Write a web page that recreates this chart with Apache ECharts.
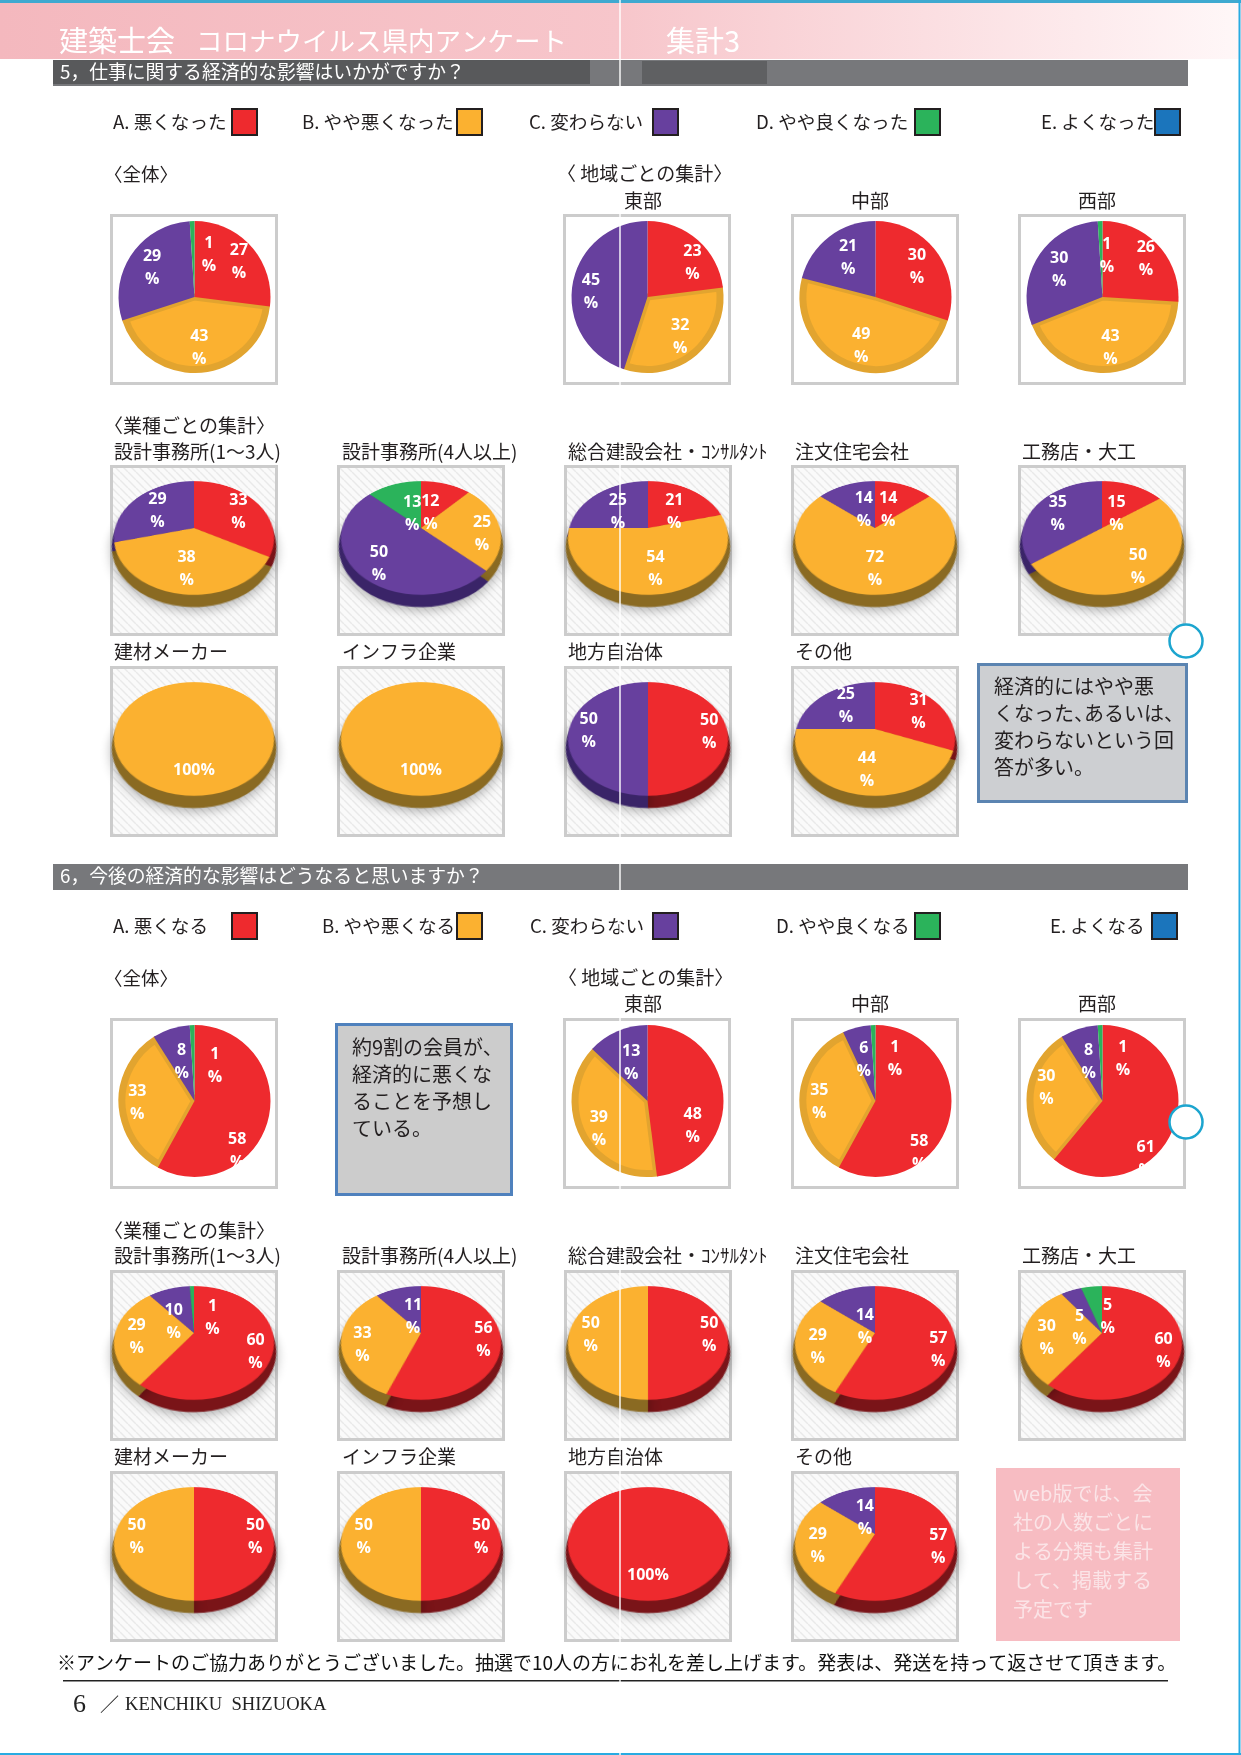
<!DOCTYPE html>
<html>
<head>
<meta charset="UTF-8">
<title>建築士会 コロナウイルス県内アンケート 集計3</title>
<script src="https://cdn.jsdelivr.net/npm/echarts@6/dist/echarts.min.js"></script>
<style>
  html, body { margin: 0; padding: 0; background: #fff; }
  #page { position: relative; width: 1241px; height: 1755px; overflow: hidden; }
  #back, #front { position: absolute; left: 0; top: 0; width: 1241px; height: 1755px; }
  #front { z-index: 5; pointer-events: none; }
  .tilt { position: absolute; z-index: 2; }
</style>
</head>
<body>
<div id="page">
  <div id="back"></div>
  <div id="front"></div>
</div>
<script>
// data. order of every list: A B C D E
var q5Legend = ['A. 悪くなった', 'B. やや悪くなった', 'C. 変わらない', 'D. やや良くなった', 'E. よくなった'];
var q6Legend = ['A. 悪くなる', 'B. やや悪くなる', 'C. 変わらない', 'D. やや良くなる', 'E. よくなる'];
var regionNames = ['東部', '中部', '西部'];
var tradeRow1 = ['設計事務所(1～3人)', '設計事務所(4人以上)', '総合建設会社・ｺﾝｻﾙﾀﾝﾄ', '注文住宅会社', '工務店・大工'];
var tradeRow2 = ['建材メーカー', 'インフラ企業', '地方自治体', 'その他'];

var q5Top = [[27, 43, 29, 1, 0], [23, 32, 45, 0, 0], [30, 49, 21, 0, 0], [26, 43, 30, 1, 0]];
var q5Row1 = [[33, 38, 29, 0, 0], [12, 25, 50, 13, 0], [21, 54, 25, 0, 0], [14, 72, 14, 0, 0], [15, 50, 35, 0, 0]];
var q5Row2 = [[0, 100, 0, 0, 0], [0, 100, 0, 0, 0], [50, 0, 50, 0, 0], [31, 44, 25, 0, 0]];
var q6Top = [[58, 33, 8, 1, 0], [48, 39, 13, 0, 0], [58, 35, 6, 1, 0], [61, 30, 8, 1, 0]];
var q6Row1 = [[60, 29, 10, 1, 0], [56, 33, 11, 0, 0], [50, 50, 0, 0, 0], [57, 29, 14, 0, 0], [60, 30, 5, 5, 0]];
var q6Row2 = [[50, 50, 0, 0, 0], [50, 50, 0, 0, 0], [100, 0, 0, 0, 0], [57, 29, 14, 0, 0]];

var colors = ['#EE2A2E', '#FBB130', '#67409E', '#2BB35B', '#1B75BC'];
var sideColors = ['#7A1418', '#8A6A22', '#3A2468', '#17663A', '#0F4470'];
var RIM = '#E2A42F';
var FONT = '"Noto Sans CJK JP", sans-serif';

// page layout
var boxX = [110, 337, 564, 791, 1018];
var topBoxX = [110, 563, 791, 1018];
var BOX_W = 168, BOX_H = 171;

// tilted disc: a circle of radius R in perspective
var R = 78.8, TILT_DEG = 45.6, PERSP = 321;
var TILT_C = Math.cos(TILT_DEG * Math.PI / 180), TILT_S = Math.sin(TILT_DEG * Math.PI / 180);
var SIDE_STEPS = [4, 8, 11.6];
var TILT_SIZE = 220;

function project(x, y) {
    var k = PERSP / (PERSP - y * TILT_S);
    return [x * k, y * TILT_C * k];
}

function slices(values, colorList) {
    var out = [];
    for (var i = 0; i < values.length; i++) {
        if (values[i] > 0) {
            out.push({ value: values[i], name: q5Legend[i], itemStyle: { color: colorList[i] } });
        }
    }
    return out;
}

function hatch() {
    var c = document.createElement('canvas');
    c.width = 8; c.height = 8;
    var g = c.getContext('2d');
    g.fillStyle = '#FAFAFA';
    g.fillRect(0, 0, 8, 8);
    g.strokeStyle = '#E9E9E9';
    g.lineWidth = 1.5;
    [[-8, 0], [0, 0], [8, 0]].forEach(function (p) {
        g.beginPath();
        g.moveTo(p[0], 0);
        g.lineTo(p[0] + 8, 8);
        g.stroke();
    });
    return c;
}
var hatchImg = hatch();

/* ---------- background sheet: all the printed text and frames ---------- */
var gfx = [];
function text(x, y, s, size, fill, extra) {
    var st = { x: x, y: y, text: s, font: size + 'px ' + FONT, fill: fill || '#231F20', textAlign: 'left', textVerticalAlign: 'middle' };
    for (var k in extra) st[k] = extra[k];
    gfx.push({ type: 'text', style: st });
}
function rect(x, y, w, h, fill, stroke, lw) {
    gfx.push({ type: 'rect', shape: { x: x, y: y, width: w, height: h }, style: { fill: fill, stroke: stroke || null, lineWidth: lw || 0 } });
}
function frame(x, y, hatched) {
    rect(x + 1.5, y + 1.5, BOX_W - 3, BOX_H - 3, hatched ? { image: hatchImg, repeat: 'repeat' } : '#fff', '#CCCCCC', 3);
}
function legend(names, y, textX, swatchX) {
    for (var i = 0; i < names.length; i++) {
        text(textX[i], y + 14, names[i], 18.6);
        rect(swatchX[i] + 1, y + 1, 25, 26, colors[i], '#231F20', 2);
    }
}

// header
gfx.push({
    type: 'rect', shape: { x: 0, y: 3, width: 1241, height: 56 },
    style: { fill: { type: 'linear', x: 0, y: 0, x2: 1, y2: 0, colorStops: [
        { offset: 0, color: '#F4B8BE' }, { offset: 0.5, color: '#F7C6CB' }, { offset: 1, color: '#FFF7F8' }] } }
});
var titleShadow = { shadowBlur: 2, shadowColor: '#8A8A8A', shadowOffsetX: 1, shadowOffsetY: 1 };
text(59, 41, '建築士会', 29, '#FFFFFF', titleShadow);
text(196, 41, 'コロナウイルス県内アンケート', 26.5, '#FFFFFF', titleShadow);
text(666, 41, '集計3', 29, '#FFFFFF', titleShadow);

// question 5
rect(53, 60, 1135, 26, '#77787B');
rect(53, 60, 537, 24, '#58595B');
rect(642, 61, 125, 23, '#5F6062');
text(60, 72, '5，仕事に関する経済的な影響はいかがですか？', 18.8, '#FFFFFF');
legend(q5Legend, 108, [113, 302, 529, 756, 1041], [231, 456, 652, 914, 1154]);
text(104, 174, '〈全体〉', 18.5);
text(557, 174, '〈 地域ごとの集計〉', 19);
text(104, 426, '〈業種ごとの集計〉', 19);

// question 6
rect(53, 864, 1135, 26, '#77787B');
text(60, 876, '6，今後の経済的な影響はどうなると思いますか？', 18.8, '#FFFFFF');
legend(q6Legend, 912, [113, 322, 530, 776, 1050], [231, 456, 652, 914, 1151]);
text(104, 978, '〈全体〉', 18.5);
text(558, 978, '〈 地域ごとの集計〉', 19);
text(104, 1231, '〈業種ごとの集計〉', 19);

var titleX = [114, 342, 568, 795, 1022];
regionNames.forEach(function (n, i) {
    var cx = [643, 870, 1097][i];
    text(cx, 201, n, 19, null, { textAlign: 'center' });
    text(cx, 1004, n, 19, null, { textAlign: 'center' });
});
[[452, 652], [1256, 1457]].forEach(function (ys) {
    tradeRow1.forEach(function (n, i) { text(titleX[i], ys[0], n, 19); });
    tradeRow2.forEach(function (n, i) { text(titleX[i], ys[1], n, 19); });
});

[214, 1018].forEach(function (y) {
    topBoxX.forEach(function (x) { frame(x, y, false); });
});
[465, 666, 1270, 1471].forEach(function (y, r) {
    var n = (r % 2 === 0) ? 5 : 4;
    for (var i = 0; i < n; i++) frame(boxX[i], y, true);
});

// comment boxes
rect(978.5, 664.5, 208, 137, '#CDCFD2', '#5B84B1', 3);
text(994, 686, '経済的にはやや悪', 20);
text(994, 713, 'くなった、', 20);
text(1084, 713, 'あるいは、', 20);
text(994, 740, '変わらないという回', 20);
text(994, 767, '答が多い。', 20);
rect(336.5, 1024.5, 175, 170, '#CCCCCC', '#4F81BD', 3);
['約9割の会員が、', '経済的に悪くな', 'ることを予想し', 'ている。'].forEach(function (s, i) {
    text(352, 1047 + i * 27, s, 20);
});
rect(996, 1468, 184, 173, '#F7BCC2');
['web版では、会', '社の人数ごとに', 'よる分類も集計', 'して、掲載する', '予定です'].forEach(function (s, i) {
    text(1013, 1493 + i * 29.2, s, 20, '#FBE4E7');
});

// foot
text(57, 1663, '※アンケートのご協力ありがとうございました。抽選で10人の方にお礼を差し上げます。発表は、発送を持って返させて頂きます。', 19, '#111');
rect(63, 1680, 1105, 1.6, '#222');
text(73, 1705, '6', 26, '#222', { font: '26px "Liberation Serif", serif' });
text(100, 1705, '／', 19, '#222', { font: '19px "Noto Sans CJK JP", serif' });
text(125, 1705, 'KENCHIKU  SHIZUOKA', 18.6, '#222', { font: '18.6px "Liberation Serif", serif' });

// page edge lines
rect(0, 0, 1241, 3, '#3FA9D0');
rect(0, 1753, 1241, 2, '#29ABE2');
rect(1238.5, 0, 2, 1755, '#29ABE2');

echarts.init(document.getElementById('back'), null, { renderer: 'canvas' }).setOption({
    animation: false,
    backgroundColor: '#FFFFFF',
    graphic: gfx
});

/* ---------- tilted pies: one small chart each, seen through a css perspective ---------- */
var page = document.getElementById('page');
var tilted = [];   // { values, cx, cy, key }
function addTilted(list, top, key) {
    list.forEach(function (values, i) {
        tilted.push({ values: values, cx: boxX[i] + 84, cy: top + 63, key: key + i });
    });
}
addTilted(q5Row1, 465, 'q5a');
addTilted(q5Row2, 666, 'q5b');
addTilted(q6Row1, 1270, 'q6a');
addTilted(q6Row2, 1471, 'q6b');

tilted.forEach(function (p) {
    var div = document.createElement('div');
    div.className = 'tilt';
    div.style.left = (p.cx - TILT_SIZE / 2) + 'px';
    div.style.top = (p.cy - TILT_SIZE / 2) + 'px';
    div.style.width = TILT_SIZE + 'px';
    div.style.height = TILT_SIZE + 'px';
    div.style.transform = 'perspective(' + PERSP + 'px) rotateX(' + TILT_DEG + 'deg)';
    page.appendChild(div);

    var series = [];
    SIDE_STEPS.forEach(function (step, s) {
        series.push({
            type: 'pie', radius: R, center: [TILT_SIZE / 2, TILT_SIZE / 2 + step],
            silent: true, label: { show: false }, labelLine: { show: false },
            itemStyle: s === SIDE_STEPS.length - 1 ? { shadowBlur: 10, shadowColor: 'rgba(0,0,0,0.3)', shadowOffsetY: 3 } : {},
            data: slices(p.values, sideColors)
        });
    });
    series.push({
        type: 'pie', radius: R, center: [TILT_SIZE / 2, TILT_SIZE / 2],
        silent: true, label: { show: false }, labelLine: { show: false },
        data: slices(p.values, colors)
    });
    echarts.init(div, null, { width: TILT_SIZE, height: TILT_SIZE, devicePixelRatio: 2 }).setOption({ animation: false, series: series });
});

/* ---------- top layer: flat pies, every value label, fold line and marker circles ---------- */
// hand shifts for labels the original moved off the slice middle: key -> dataIndex -> [dx, dy]
var labelNudge = {
    q5top0: { 0: [6, -1], 3: [16, 9] },
    q5top1: { 0: [11, 4], 2: [-6, 3] },
    q5top2: { 2: [4, 1] },
    q5top3: { 0: [6, -3], 3: [6, 10] },
    q5a0: { 0: [2, 2], 2: [2, 4] },
    q5a1: { 0: [-8, 16], 1: [9, 7], 2: [-3, 7], 3: [10, 16] },
    q5a2: { 0: [-3, 10], 2: [4, 8] },
    q5a3: { 0: [-7, 12], 2: [9, 12] },
    q5a4: { 0: [-7, 15], 1: [2, 6], 2: [0, 2] },
    q5b2: { 0: [9, 3], 1: [-7, 2] },
    q5b3: { 0: [3, 2], 1: [3, 0], 2: [5, 1] },
    q6top0: { 0: [-7, 37], 1: [-6, 0], 2: [3, 10], 3: [22, 16] },
    q6top1: { 0: [-6, 28], 1: [-3, 5], 2: [4, 9] },
    q6top2: { 0: [-6, 39], 1: [-5, 3], 2: [1, 9], 3: [21, 9] },
    q6top3: { 0: [-5, 41], 1: [-5, -10], 2: [2, 10], 3: [22, 9] },
    q6a0: { 0: [10, 7], 1: [-5, 3], 2: [-3, 20], 3: [20, 18] },
    q6a1: { 0: [10, 0], 1: [-6, 6], 2: [8, 15] },
    q6a2: { 0: [9, 2], 1: [-5, 2] },
    q6a3: { 0: [11, 9], 1: [-5, 6], 2: [10, 24] },
    q6a4: { 0: [10, 6], 1: [-3, 5], 2: [-1, 24], 3: [13, 16] },
    q6b0: { 0: [9, 3], 1: [-5, 3] },
    q6b1: { 0: [8, 3], 1: [-5, 3] },
    q6b3: { 0: [11, 5], 1: [-5, 4], 2: [10, 14] }
};

var flat = [];
q5Top.forEach(function (values, i) { flat.push({ values: values, cx: topBoxX[i] + 84.5, cy: 297, key: 'q5top' + i }); });
q6Top.forEach(function (values, i) { flat.push({ values: values, cx: topBoxX[i] + 84.5, cy: 1101, key: 'q6top' + i }); });

var frontSeries = [], frontMeta = [];
var labelStyle = {
    show: true, position: 'inside', color: '#FFFFFF',
    fontFamily: '"Open Sans", sans-serif', fontWeight: 'bold', fontSize: 16, lineHeight: 23,
    formatter: function (d) { return d.value === 100 ? '100%' : d.value + '\n%'; }
};

function frontLayout(params) {
    var m = frontMeta[params.seriesIndex];
    var r = params.labelRect;
    var lx = r.x + r.width / 2 - m.cx, ly = r.y + r.height / 2 - m.cy;
    var to = m.tilted ? project(lx, ly) : [lx * 1.25, ly * 1.25];
    var n = (labelNudge[m.key] || {})[params.dataIndex] || [0, 0];
    return { dx: to[0] - lx + n[0], dy: to[1] - ly + n[1] };
}

flat.forEach(function (p) {
    // orange slice first, drawn a little small with a wide darker border: the rim stays inside the disc
    var under = slices(p.values, colors).map(function (d) {
        var isB = d.itemStyle.color === colors[1];
        return { value: d.value, name: d.name, itemStyle: isB ? { color: colors[1], borderColor: RIM, borderWidth: 7 } : { color: 'rgba(0,0,0,0)' } };
    });
    frontSeries.push({
        type: 'pie', radius: 72.5, center: [p.cx, p.cy], silent: true,
        label: { show: false }, labelLine: { show: false }, data: under
    });
    frontMeta.push(null);

    var data = slices(p.values, colors).map(function (d) {
        if (d.itemStyle.color === colors[1]) d.itemStyle.color = 'rgba(0,0,0,0)';
        return d;
    });
    frontSeries.push({
        type: 'pie', radius: 76, center: [p.cx, p.cy], silent: true,
        label: labelStyle, labelLine: { show: false }, labelLayout: frontLayout, data: data
    });
    frontMeta.push({ cx: p.cx, cy: p.cy, key: p.key, tilted: false });
});
tilted.forEach(function (p) {
    var data = slices(p.values, colors).map(function (d) {
        return { value: d.value, name: d.name, itemStyle: { color: 'rgba(0,0,0,0)' } };
    });
    frontSeries.push({
        type: 'pie', radius: R * 1.25, center: [p.cx, p.cy], silent: true,
        label: labelStyle, labelLine: { show: false }, labelLayout: frontLayout, data: data
    });
    frontMeta.push({ cx: p.cx, cy: p.cy, key: p.key, tilted: true });
});

echarts.init(document.getElementById('front')).setOption({
    animation: false,
    series: frontSeries,
    graphic: [
        { type: 'line', z: 100, shape: { x1: 620, y1: 0, x2: 620, y2: 1755 }, style: { stroke: '#FFFFFF', lineWidth: 1.4 } },
        { type: 'circle', z: 100, shape: { cx: 1186, cy: 641, r: 16.5 }, style: { fill: '#FFFFFF', stroke: '#1CA5CF', lineWidth: 2.5 } },
        { type: 'circle', z: 100, shape: { cx: 1186, cy: 1122, r: 16.5 }, style: { fill: '#FFFFFF', stroke: '#1CA5CF', lineWidth: 2.5 } }
    ]
});
</script>
</body>
</html>
